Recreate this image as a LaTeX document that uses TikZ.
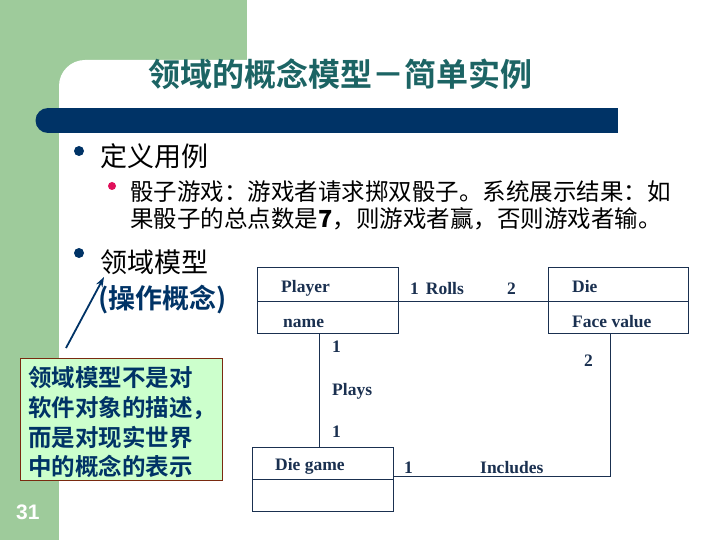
\documentclass[tikz,border=0pt]{standalone}
\usepackage{fontspec}
\setmainfont{Liberation Serif}
\newfontfamily\cjk{Noto Sans CJK SC}
\newfontfamily\cjkb{Noto Sans CJK SC Bold}
\newfontfamily\lsans{Liberation Sans}
\usetikzlibrary{arrows.meta}
\definecolor{sgreen}{HTML}{9ECB9B}
\definecolor{navy}{HTML}{003366}
\definecolor{teal2}{HTML}{1C6464}
\definecolor{pinkdot}{HTML}{E0105A}
\definecolor{cfill}{HTML}{CCFFCC}
\definecolor{cborder}{HTML}{7A2A10}
\definecolor{umlc}{HTML}{1A3050}
\begin{document}
\begin{tikzpicture}[x=1pt,y=-1pt,
  umlbox/.style={draw=umlc,line width=0.9pt},
  umlline/.style={draw=umlc,line width=0.9pt},
  umltxt/.style={text=umlc,font=\fontsize{17.5}{20}\selectfont\bfseries,inner sep=0pt,anchor=base west},
  cjktxt/.style={inner sep=0pt,anchor=base west}]
\useasboundingbox (0,0) rectangle (720,540);
\clip (0,0) rectangle (720,540);
% background
\fill[white] (0,0) rectangle (720,540);
\fill[sgreen] (0,0) rectangle (247,110);
\fill[sgreen] (0,0) rectangle (59,540);
\fill[white,rounded corners=26pt] (59,60) rectangle (780,600);
% bar
\fill[navy] (48,108) rectangle (618,133);
\fill[navy] (48,120.5) ellipse [x radius=12.5, y radius=12.5];
% title
\node[text=teal2,font=\cjkb\fontsize{32}{36}\selectfont,inner sep=0pt,anchor=base] (title) at (340,87) {领域的概念模型－简单实例};
% bullets
\fill[navy] (79,151) circle (5);
\node[cjktxt,font=\cjk\fontsize{27}{30}\selectfont] (b1) at (100,167) {定义用例};
\fill[pinkdot] (112,186) circle (4);
\node[cjktxt,font=\cjk\fontsize{23.5}{27}\selectfont] (s1) at (130,201) {骰子游戏：游戏者请求掷双骰子。系统展示结果：如};
\node[cjktxt,font=\cjk\fontsize{23.5}{27}\selectfont] (s2) at (130,228) {果骰子的总点数是\textbf{7}，则游戏者赢，否则游戏者输。};
\fill[navy] (79,253) circle (5);
\node[cjktxt,font=\cjk\fontsize{27}{30}\selectfont] (b2) at (100,272) {领域模型};
\node[cjktxt,text=navy,font=\cjkb\fontsize{27}{30}\selectfont] (b3) at (98,308) {(操作概念)};
% callout
\node[draw=cborder,fill=cfill,line width=0.8pt,minimum width=202pt,minimum height=122pt,inner sep=0pt,anchor=north west] (call) at (20,358) {};
\foreach \t/\y [count=\i] in {领域模型不是对/386,软件对象的描述，/416,而是对现实世界/446,中的概念的表示/475}{
  \node[cjktxt,text=navy,font=\cjkb\fontsize{23.5}{27}\selectfont] (c\i) at (28,\y) {\t};
}
\coordinate (arrS) at (66,348);
\draw[navy,line width=1.8pt,-{Stealth[length=10pt,width=7pt]}] (arrS) -- (104,277);
% page number
\node[text=white,font=\lsans\bfseries\fontsize{21}{24}\selectfont,inner sep=0pt,anchor=base west] (pg) at (16,519) {31};
% UML
\draw[umlbox] (257,267) rectangle (398,333);
\draw[umlline] (257,301) -- (398,301);
\coordinate (pR) at (398,301);
\coordinate (pB) at (319,333);
\draw[umlbox] (548,267) rectangle (688,333);
\draw[umlline] (548,301) -- (688,301);
\coordinate (dL) at (548,301);
\coordinate (dB) at (610,333);
\draw[umlbox] (252,447) rectangle (393,511);
\draw[umlline] (252,479) -- (393,479);
\coordinate (gT) at (319,447);
\coordinate (gR) at (393,476);
\coordinate (corner) at (610,476);
\draw[umlline] (pR) -- (dL);
\draw[umlline] (pB) -- (gT);
\draw[umlline] (dB) -- (corner) -- (gR);
\node[umltxt] (t1) at (281,292) {Player};
\node[umltxt] (t2) at (283,327) {name};
\node[umltxt] (t3) at (572,292) {Die};
\node[umltxt] (t4) at (572,327) {Face value};
\node[umltxt] (t5) at (410,294) {1\hspace{7pt}Rolls};
\node[umltxt] (t6) at (507,294) {2};
\node[umltxt] (t7) at (332,352) {1};
\node[umltxt] (t8) at (584,366) {2};
\node[umltxt] (t9) at (332,395) {Plays};
\node[umltxt] (t10) at (332,437) {1};
\node[umltxt] (t11) at (275,470) {Die game};
\node[umltxt] (t12) at (404,473) {1};
\node[umltxt] (t13) at (480,473) {Includes};
\end{tikzpicture}
\end{document}
